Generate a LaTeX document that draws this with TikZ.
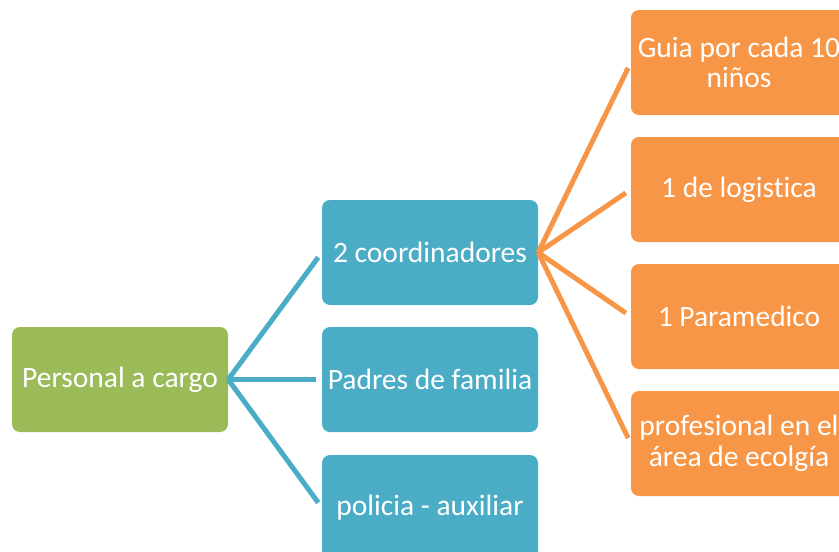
\documentclass[tikz,border=0pt]{standalone}
\usepackage{fontspec}
\setmainfont[Ligatures=NoCommon]{Carlito}
\definecolor{grn}{HTML}{9BBB59}
\definecolor{blu}{HTML}{4BACC6}
\definecolor{org}{HTML}{F79646}
\begin{document}
\begin{tikzpicture}[x=1pt,y=-1pt,
  box/.style={rounded corners=8pt, minimum width=216pt, minimum height=105pt,
    text=white, font=\fontsize{29.5}{30.5}\selectfont, align=center, inner sep=0pt},
  blink/.style={draw=blu, line width=5pt, shorten >=6pt},
  olink/.style={draw=org, line width=5pt, shorten >=6pt}]
\useasboundingbox (0,0) rectangle (839,552);
\clip (0,0) rectangle (839,552);
\node[box, fill=grn] (p) at (120,379.5) {Personal a cargo};
\node[box, fill=blu] (b1) at (430,252.5) {2 coordinadores};
\node[box, fill=blu] (b2) at (430,379.5) {Padres de familia};
\node[box, fill=blu] (b3) at (430,507.5) {policia - auxiliar};
\node[box, fill=org] (o1) at (739,62.5) {Guia por cada 10\\niños};
\node[box, fill=org] (o2) at (739,189.5) {1 de logistica};
\node[box, fill=org] (o3) at (739,316.5) {1 Paramedico};
\node[box, fill=org] (o4) at (739,443.5) {profesional en el\\área de ecolgía};
\draw[blink] (p.east) -- (b1.west);
\draw[blink] (p.east) -- (b2.west);
\draw[blink] (p.east) -- (b3.west);
\draw[olink] (b1.east) -- (o1.west);
\draw[olink] (b1.east) -- (o2.west);
\draw[olink] (b1.east) -- (o3.west);
\draw[olink] (b1.east) -- (o4.west);
\end{tikzpicture}
\end{document}
